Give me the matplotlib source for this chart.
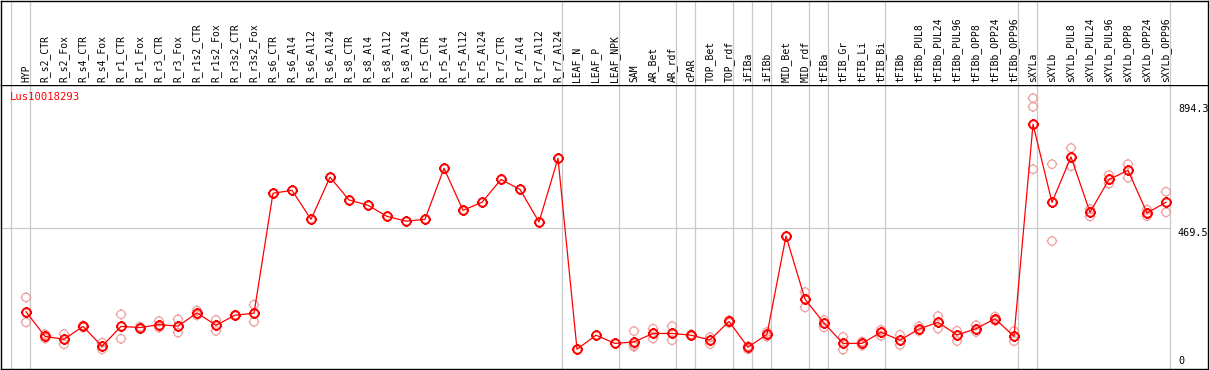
import matplotlib
matplotlib.use('Agg')

import matplotlib.pyplot as plt
import numpy as np
from matplotlib.path import Path
from matplotlib.transforms import blended_transform_factory

# ---------------- DATA ----------------
gene = "Lus10018293"

categories = [
    "HYP",
    "R_s2_CTR", "R_s2_Fox", "R_s4_CTR", "R_s4_Fox", "R_r1_CTR", "R_r1_Fox",
    "R_r3_CTR", "R_r3_Fox", "R_r1s2_CTR", "R_r1s2_Fox", "R_r3s2_CTR", "R_r3s2_Fox",
    "R_s6_CTR", "R_s6_Al4", "R_s6_Al12", "R_s6_Al24", "R_s8_CTR", "R_s8_Al4",
    "R_s8_Al12", "R_s8_Al24", "R_r5_CTR", "R_r5_Al4", "R_r5_Al12", "R_r5_Al24",
    "R_r7_CTR", "R_r7_Al4", "R_r7_Al12", "R_r7_Al24",
    "LEAF_N", "LEAF_P", "LEAF_NPK",
    "SAM", "AR_Bet", "AR_rdf",
    "cPAR",
    "TOP_Bet", "TOP_rdf",
    "iFIBa",
    "iFIBb",
    "MID_Bet", "MID_rdf",
    "tFIBa",
    "tFIB_Gr", "tFIB_Li", "tFIB_Bi",
    "tFIBb", "tFIBb_PUL8", "tFIBb_PUL24", "tFIBb_PUL96", "tFIBb_OPP8",
    "tFIBb_OPP24", "tFIBb_OPP96",
    "sXYLa",
    "sXYLb", "sXYLb_PUL8", "sXYLb_PUL24", "sXYLb_PUL96", "sXYLb_OPP8",
    "sXYLb_OPP24", "sXYLb_OPP96",
]

# sample groups, separated by gray lines
group_sizes = [1, 28, 3, 3, 1, 2, 1, 1, 2, 1, 3, 7, 1, 7]

means = [
    185, 101, 91, 135, 67, 135, 131, 141, 136, 181, 139, 173, 180,
    589, 599, 500, 644, 566, 548, 510, 494, 500, 674, 531, 558, 636, 602, 491, 708,
    57, 105, 77,
    82, 111, 111,
    105,
    89, 152,
    64,
    108,
    443, 228,
    146,
    77, 77, 115,
    88, 126, 149, 106, 127, 161, 101,
    824,
    558, 713, 524, 636, 667, 522, 558,
]

replicates = [
    [234, 149], [108, 94], [109, 74], [138, 132], [79, 57], [176, 93], [134, 127],
    [153, 131], [159, 114], [189, 173], [157, 120], [172, 174], [209, 151],
    [], [], [], [], [], [], [], [], [], [], [], [], [], [], [], [],
    [], [], [],
    [119, 72, 66], [127, 94], [136, 88],
    [103, 108],
    [98, 75], [156, 147],
    [68, 57],
    [116, 100],
    [], [252, 200],
    [157, 132],
    [99, 56], [83, 70], [123, 103],
    [106, 72], [135, 119], [170, 128], [120, 85], [139, 116], [168, 154], [119, 85],
    [913, 884, 671],
    [688, 426], [743, 681], [535, 510], [651, 622], [688, 642], [533, 511], [594, 524],
]

ytick_vals = [894.3, 469.5, 0]

# ---------------- LAYOUT (pixels) ----------------
W, H, DPI = 1209, 370, 100
HEAD = 85          # header height
X0, STEP = 26, 19  # pixel x of first category, spacing
Y_ZERO, PX_PER = 366, 0.2933
L, R, B = 1, 1208, 369

x = np.arange(len(categories))
rep_x = np.concatenate([[i] * len(r) for i, r in enumerate(replicates)])
rep_y = np.concatenate([r for r in replicates])

# open circle with four small ticks
circ = Path.unit_circle()
verts = list(circ.vertices)
codes = list(circ.codes)
for dx, dy in [(1, 0), (-1, 0), (0, 1), (0, -1)]:
    verts += [(dx * 1.0, dy * 1.0), (dx * 1.28, dy * 1.28)]
    codes += [Path.MOVETO, Path.LINETO]
ring = Path(verts, codes)

fig = plt.figure(figsize=(W / DPI, H / DPI), dpi=DPI, facecolor='white')
ax = fig.add_axes([L / W, (H - B) / H, (R - L) / W, (B - HEAD) / H])
hx = fig.add_axes([L / W, (H - HEAD) / H, (R - L) / W, (HEAD - 0.5) / H])

xlim = ((L - X0) / STEP, (R - X0) / STEP)
for a in (ax, hx):
    a.set_xlim(*xlim)
    a.set_xticks([])
    a.set_yticks([])
    for s in a.spines.values():
        s.set_color('black')
        s.set_linewidth(1.0)
hx.set_ylim(0, 1)
hx.spines['bottom'].set_visible(False)
ax.set_ylim((Y_ZERO - B) / PX_PER, (Y_ZERO - HEAD) / PX_PER)

# group separators
bounds = np.concatenate([[-1], np.cumsum(group_sizes) - 1]) + 0.23
for b in bounds:
    for a in (ax, hx):
        a.axvline(b, color='#c8c8c8', lw=0.9, zorder=0)

ax.hlines(ytick_vals[1], xlim[0], bounds[-1], color='#c8c8c8', lw=0.9, zorder=0)

# replicates, mean line, mean markers
ax.scatter(rep_x, rep_y, marker=ring, s=60, facecolors='none',
           edgecolors='#f0a0a0', linewidths=0.9, zorder=2)
ax.plot(x, means, color='red', lw=0.9, zorder=3)
ax.plot(x, means, linestyle='none', marker=ring, markersize=7.8,
        markerfacecolor='none', markeredgecolor='red', markeredgewidth=1.4, zorder=4)

# header labels
tr = blended_transform_factory(hx.transData, hx.transAxes)
for i, lab in enumerate(categories):
    hx.text(i, 0.03, lab, rotation=90, ha='center', va='bottom', transform=tr,
            family='DejaVu Sans Mono', fontsize=7, color='black')

# gene name
ax.text((10 - L) / (R - L), 0.975, gene, transform=ax.transAxes, ha='left', va='top',
        family='DejaVu Sans Mono', fontsize=7.6, color='red')

# value labels on the right
xl = bounds[-1] + 0.4
for v in ytick_vals:
    ax.text(xl, v, f"{v:g}", ha='left', va='top' if v > 0 else 'bottom',
            family='DejaVu Sans Mono', fontsize=7.3, color='black')

fig.savefig('out.png', dpi=DPI, facecolor='white')
